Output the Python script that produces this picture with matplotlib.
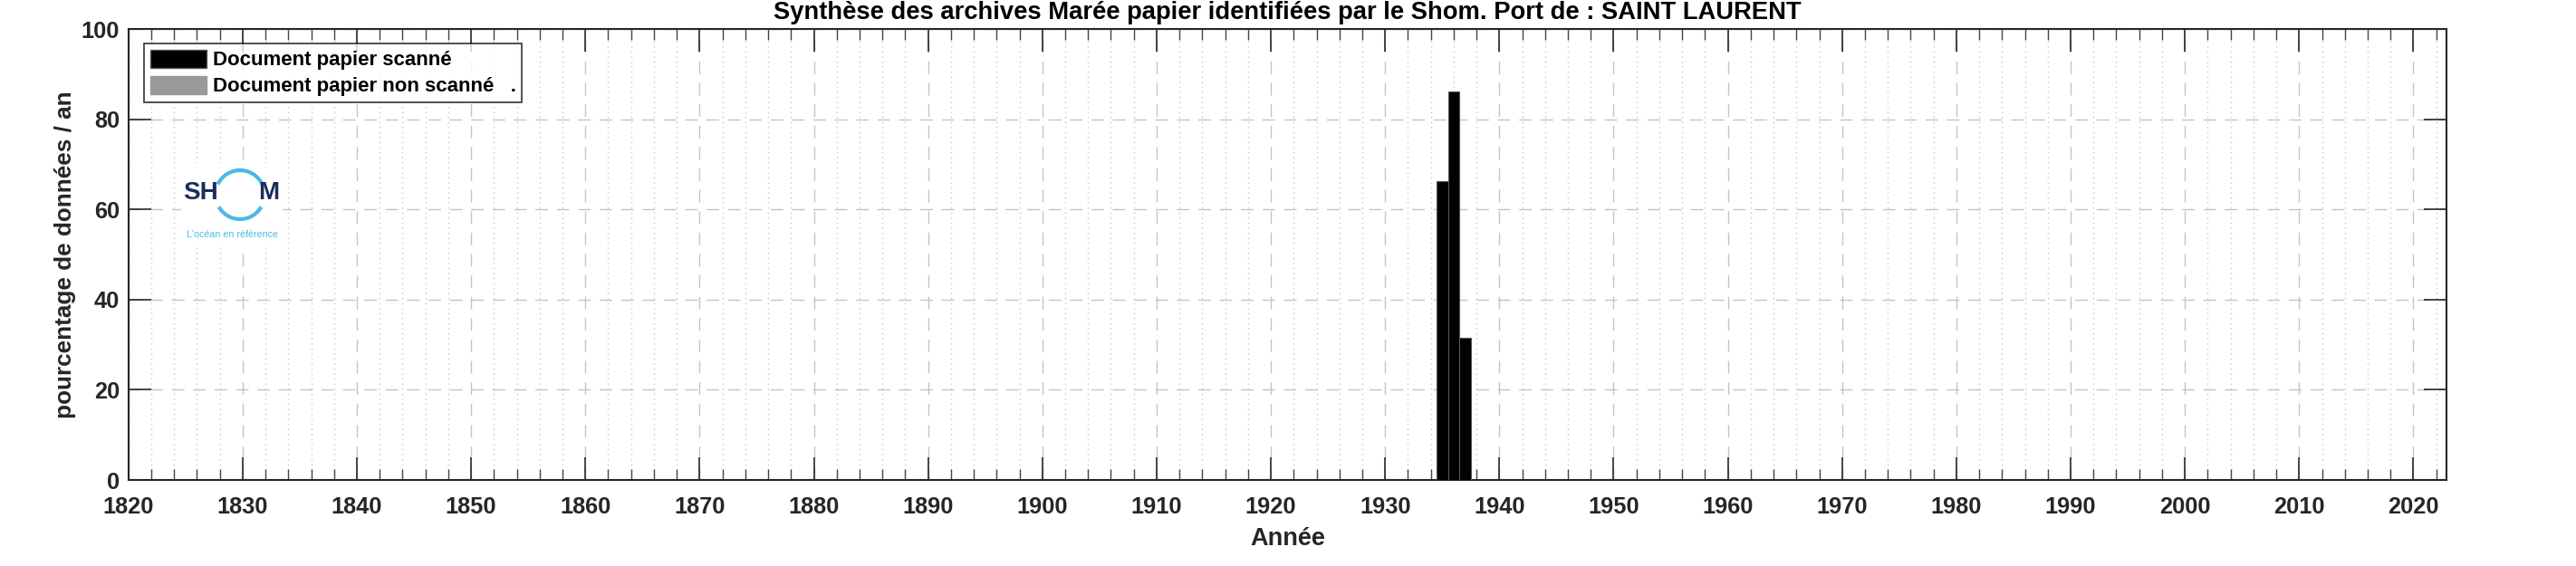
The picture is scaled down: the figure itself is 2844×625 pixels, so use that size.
import matplotlib
matplotlib.use("Agg")
import matplotlib.pyplot as plt
from matplotlib.patches import Arc, Patch
from matplotlib.ticker import MultipleLocator

# ---- data ----
years_scanned = [1935, 1936, 1937]
pct_scanned = [66.3, 86.2, 31.5]
years_unscanned = []
pct_unscanned = []

title = "Synthèse des archives Marée papier identifiées par le Shom. Port de : SAINT LAURENT"
xlabel = "Année"
ylabel = "pourcentage de données / an"
legend_labels = ["Document papier scanné", "Document papier non scanné   ."]
xticks = list(range(1820, 2021, 10))
yticks = [0, 20, 40, 60, 80, 100]

W, H = 2844, 625
plt.rcParams['font.family'] = ['Liberation Sans', 'DejaVu Sans']
fig = plt.figure(figsize=(W / 100, H / 100), dpi=100)
ax = fig.add_axes([141.7 / W, (H - 530) / H, (2701 - 141.7) / W, (530 - 32) / H])

txtcol = '#262626'
ax.bar(years_scanned, pct_scanned, width=1.0, color='black', edgecolor='#555555', linewidth=0.8, zorder=3)
ax.bar(years_unscanned, pct_unscanned, width=1.0, color='#999999', zorder=3)

ax.set_xlim(1820, 2022.9)
ax.set_ylim(0, 100)
ax.set_xticks(xticks)
ax.set_yticks(yticks)
ax.xaxis.set_minor_locator(MultipleLocator(2))

ax.tick_params(axis='both', which='major', direction='in', length=18, width=1.2,
               top=True, right=True, labelsize=18.3, colors=txtcol)
ax.tick_params(axis='x', which='minor', direction='in', length=8.5, width=1.0,
               top=True, bottom=True, colors='#444444')
ax.tick_params(axis='x', which='major', pad=13)
ax.tick_params(axis='y', which='major', pad=7)
for lab in ax.get_xticklabels() + ax.get_yticklabels():
    lab.set_fontweight('bold')

ax.grid(True, which='major', axis='both', linestyle=(0, (10, 7)), color='#c4c4c4', linewidth=1.0, zorder=0)
ax.grid(True, which='minor', axis='x', linestyle=(0, (1, 3)), color='#c8c8c8', linewidth=1.0, zorder=0)
ax.set_axisbelow(True)
for s in ax.spines.values():
    s.set_color(txtcol)
    s.set_linewidth(1.5)

ax.set_title(title, fontsize=19.7, fontweight='bold', color='black', pad=8)
ax.set_xlabel(xlabel, fontsize=19.5, fontweight='bold', color=txtcol, labelpad=7)
ax.set_ylabel(ylabel, fontsize=18.8, fontweight='bold', color=txtcol)
ax.yaxis.set_label_coords(-0.0225, 0.5)

handles = [Patch(facecolor='black', edgecolor='#555555'), Patch(facecolor='#999999', edgecolor='#999999')]
leg = ax.legend(handles, legend_labels, loc='upper left', bbox_to_anchor=(17.3 / 2559.3, 1 - 16 / 498),
                fontsize=16, frameon=True, fancybox=False, handlelength=2.8, handleheight=1.0,
                handletextpad=0.3, borderpad=0.3, labelspacing=0.3, borderaxespad=0)
leg.get_frame().set_edgecolor('black')
leg.get_frame().set_linewidth(1.2)
for t in leg.get_texts():
    t.set_fontweight('bold')

# ---- SHOM logo ----
lx0, ly0, lw, lh = 200, 272, 112, 92
lax = fig.add_axes([lx0 / W, (H - ly0) / H, lw / W, lh / H])
lax.set_xlim(0, lw)
lax.set_ylim(0, lh)
lax.set_facecolor('white')
for s in lax.spines.values():
    s.set_visible(False)
lax.set_xticks([])
lax.set_yticks([])
navy = '#1b2d5c'
sky = '#4cb9e3'
cx, cy, r = 65, 57, 27
lax.add_patch(Arc((cx, cy), 2 * r, 2 * r, theta1=25, theta2=155, color=sky, lw=3.0))
lax.add_patch(Arc((cx, cy), 2 * r, 2 * r, theta1=210, theta2=330, color=sky, lw=3.0))
logo_font = ['Liberation Sans Narrow', 'Liberation Sans']
lax.text(22, 59, "SH", color=navy, fontsize=20, fontweight='bold', ha='center', va='center', family=logo_font)
lax.text(97, 59, "M", color=navy, fontsize=20, fontweight='bold', ha='center', va='center', family=logo_font)
lax.text(57, 13, "L'océan en référence", color=sky, fontsize=7.7, ha='center', va='center')

fig.savefig("out.png", dpi=100)
